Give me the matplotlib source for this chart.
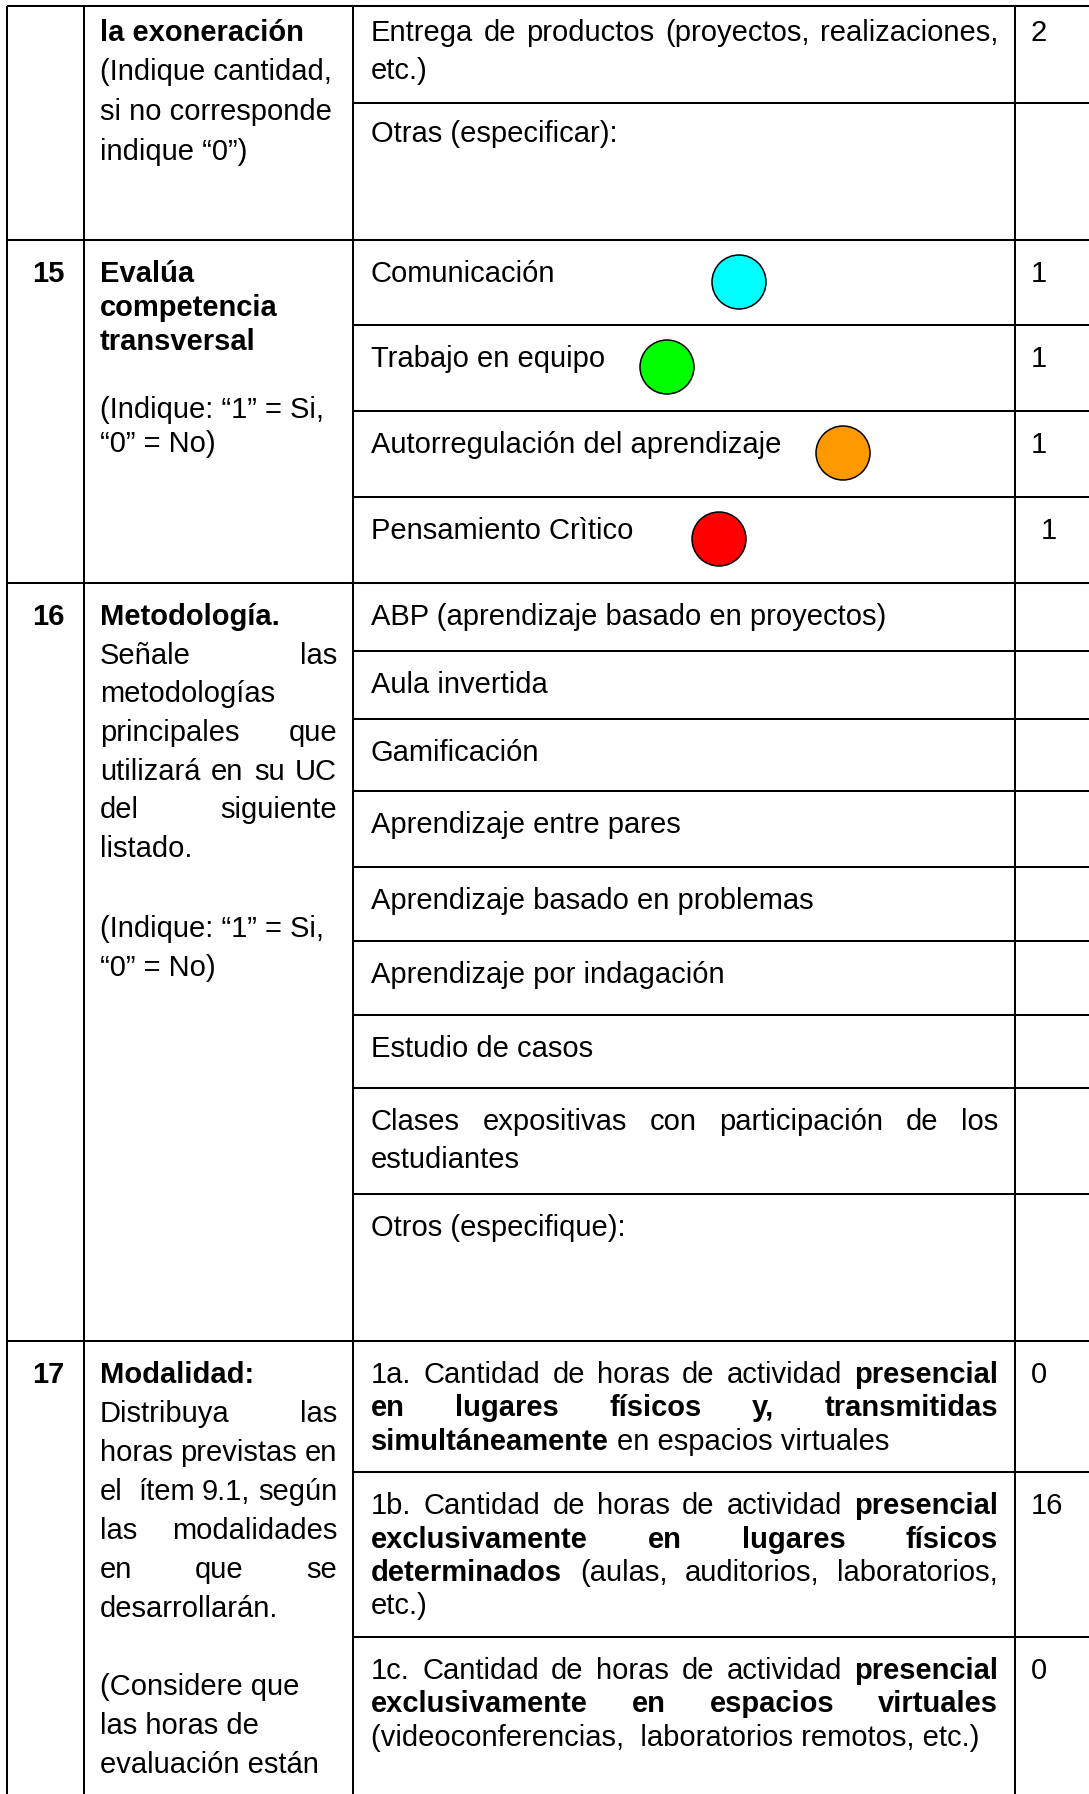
import matplotlib
matplotlib.use("Agg")
import matplotlib.pyplot as plt
from matplotlib.patches import Circle
from matplotlib.font_manager import FontProperties

# ---------------- content ----------------
item_numbers = ["15", "16", "17"]

desc_14 = ["**la exoneración**", "(Indique cantidad,", "si no corresponde", "indique “0”)"]
desc_15_title = ["**Evalúa**", "**competencia**", "**transversal**"]
desc_15_note = ["(Indique: “1” = Si,", "“0” = No)"]
desc_16_title = ["**Metodología.**", "Señale las", "metodologías", "principales que",
                 "utilizará en su UC", "del siguiente", "listado."]
desc_16_note = ["(Indique: “1” = Si,", "“0” = No)"]
desc_17_title = ["**Modalidad:**", "Distribuya las", "horas previstas en",
                 "el  ítem 9.1, según", "las modalidades", "en que se", "desarrollarán."]
desc_17_note = ["(Considere que", "las horas de", "evaluación están"]

options = [
    ["Entrega de productos (proyectos, realizaciones,", "etc.)"],
    ["Otras (especificar):"],
    ["Comunicación"],
    ["Trabajo en equipo"],
    ["Autorregulación del aprendizaje"],
    ["Pensamiento Crìtico"],
    ["ABP (aprendizaje basado en proyectos)"],
    ["Aula invertida"],
    ["Gamificación"],
    ["Aprendizaje entre pares"],
    ["Aprendizaje basado en problemas"],
    ["Aprendizaje por indagación"],
    ["Estudio de casos"],
    ["Clases expositivas con participación de los", "estudiantes"],
    ["Otros (especifique):"],
    ["1a. Cantidad de horas de actividad **presencial**",
     "**en lugares físicos y, transmitidas**",
     "**simultáneamente** en espacios virtuales"],
    ["1b. Cantidad de horas de actividad **presencial**",
     "**exclusivamente en lugares físicos**",
     "**determinados** (aulas, auditorios, laboratorios,",
     "etc.)"],
    ["1c. Cantidad de horas de actividad **presencial**",
     "**exclusivamente en espacios virtuales**",
     "(videoconferencias,  laboratorios remotos, etc.)"],
]
values = ["2", "", "1", "1", "1", "1", "", "", "", "", "", "", "", "", "", "0", "16", "0"]
competencia_colors = ["#00ffff", "#00ff00", "#ff9900", "#ff0000"]

# ---------------- layout (pixels, y down) ----------------
W, H, DPI = 1089, 1794, 100
FS = 21
LW = 1.45
col_x = [7, 84, 353, 1015]
row_tops = [6, 240, 583, 1341]
opt_tops = [6, 103, 240, 325, 411, 497, 583, 651, 719, 791, 867, 941, 1015, 1088,
            1194, 1341, 1472, 1637]
opt_base = [41, 142] + [t + 42 for t in opt_tops[2:]]
opt_spacing = [38] * 15 + [33.5] * 3
opt_justify = [True] + [False] * 12 + [True, False, True, True, True]
num_x, desc_x, desc_r, opt_x, opt_r, val_x = 32, 100, 337, 371, 998, 1031
num_base = [282, 625, 1383]
circle_xy = [(739, 282), (667, 367), (843, 453), (719, 539)]
circle_r = 27

fig = plt.figure(figsize=(W / DPI, H / DPI), dpi=DPI)
ax = fig.add_axes([0, 0, 1, 1])
ax.set_xlim(0, W)
ax.set_ylim(H, 0)
ax.axis("off")
renderer = fig.canvas.get_renderer()

fp = {False: FontProperties(family="Liberation Sans", size=FS),
      True: FontProperties(family="Liberation Sans", size=FS, weight="bold")}


def width(s, bold=False):
    if not s:
        return 0.0
    w, h, d = renderer.get_text_width_height_descent(s, fp[bold], ismath=False)
    return w


space_w = width("a a") - width("aa")


def tokens_of(line):
    toks, bold = [], False
    for w in line.split(" "):
        if w.startswith("**"):
            bold, w = True, w[2:]
        wb = bold
        if w.endswith("**"):
            bold, w = False, w[:-2]
        toks.append((w, wb))
    return toks


def put(s, x, y, bold):
    ax.text(x, y, s, fontproperties=fp[bold], ha="left", va="baseline", color="black")


def draw_line(line, x0, x1, y, justify):
    toks = tokens_of(line)
    if justify and len(toks) > 1:
        total = sum(width(t, b) for t, b in toks)
        gap = (x1 - x0 - total) / (len(toks) - 1)
        x = x0
        for t, b in toks:
            if t:
                put(t, x, y, b)
            x += width(t, b) + gap
        return
    # natural spacing: group runs of equal weight
    runs = []
    for t, b in toks:
        if runs and runs[-1][1] == b:
            runs[-1][0].append(t)
        else:
            runs.append([[t], b])
    x = x0
    for words, b in runs:
        s = " ".join(words)
        put(s, x, y, b)
        x += width(s, b) + space_w


def draw_par(lines, x0, x1, base, step, justify):
    for i, line in enumerate(lines):
        last = i == len(lines) - 1
        draw_line(line, x0, x1, base + i * step, justify and not last)


# grid
for y in row_tops:
    ax.plot([col_x[0], W], [y, y], color="black", lw=LW, solid_capstyle="butt")
for y in opt_tops:
    ax.plot([col_x[2], W], [y, y], color="black", lw=LW, solid_capstyle="butt")
for x in col_x:
    ax.plot([x, x], [row_tops[0], H], color="black", lw=LW, solid_capstyle="butt")

# item numbers
for n, y in zip(item_numbers, num_base):
    put(n, num_x, y, True)

# description column
desc_layout = [(desc_14, 41, 39.5, False), (desc_15_title, 282, 34, False),
               (desc_15_note, 418, 34, False), (desc_16_title, 625, 38.7, True),
               (desc_16_note, 937, 39, False), (desc_17_title, 1383, 39, True),
               (desc_17_note, 1695, 39, False)]
for lines, base, step, just in desc_layout:
    draw_par(lines, desc_x, desc_r, base, step, just)

# options and values
for i, lines in enumerate(options):
    draw_par(lines, opt_x, opt_r, opt_base[i], opt_spacing[i], opt_justify[i])
    if values[i]:
        vx = val_x + (10 if i == 5 else 0)
        put(values[i], vx, opt_base[i], False)

# competencia dots
for (cx, cy), c in zip(circle_xy, competencia_colors):
    ax.add_patch(Circle((cx, cy), circle_r, facecolor=c, edgecolor="black", lw=1.1, zorder=3))

fig.savefig("out.png", dpi=DPI, facecolor="white")
